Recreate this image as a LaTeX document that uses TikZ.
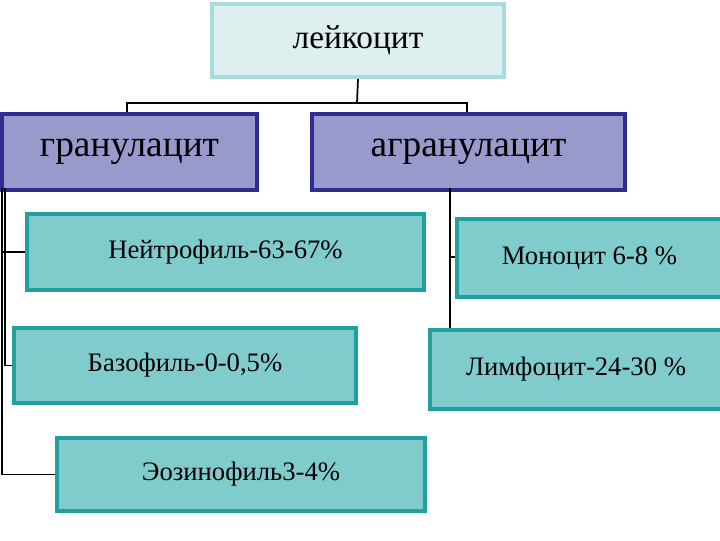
\documentclass[tikz,border=0pt]{standalone}
\usepackage{fontspec}
\setmainfont{Liberation Serif}
\definecolor{topfill}{HTML}{DDEFEF}
\definecolor{topdraw}{HTML}{A8DCDC}
\definecolor{lav}{HTML}{9999CC}
\definecolor{navy}{HTML}{2E2E8F}
\definecolor{tealf}{HTML}{80CCCC}
\definecolor{teald}{HTML}{22A0A0}
\begin{document}
\begin{tikzpicture}[x=0.75pt,y=-0.75pt,
  bx/.style={draw,line width=3pt,inner sep=0pt,anchor=north west},
  topbox/.style={bx,fill=topfill,draw=topdraw},
  midbox/.style={bx,fill=lav,draw=navy,font=\fontsize{28}{30}\selectfont},
  lowbox/.style={bx,fill=tealf,draw=teald,font=\fontsize{20}{22}\selectfont},
  ln/.style={line width=1.3pt,black}]
\useasboundingbox (0,0) rectangle (720,540);
\node[topbox,minimum width=0.75*292pt,minimum height=0.75*73pt,font=\fontsize{25}{27}\selectfont] (L) at (210,2) {лейкоцит};
\node[midbox,minimum width=0.75*255pt,minimum height=0.75*76pt] (G) at (0,112) {гранулацит};
\node[midbox,minimum width=0.75*313pt,minimum height=0.75*76pt] (A) at (310,112) {агранулацит};
\node[lowbox,minimum width=0.75*397pt,minimum height=0.75*76pt] (N) at (25,212) {Нейтрофиль-63-67\%};
\node[lowbox,minimum width=0.75*342pt,minimum height=0.75*75pt] (B) at (12,326) {Базофиль-0-0,5\%};
\node[lowbox,minimum width=0.75*368pt,minimum height=0.75*73pt] (E) at (55,436) {Эозинофиль3-4\%};
\node[lowbox,minimum width=0.75*265pt,minimum height=0.75*78pt] (M) at (455,217) {Моноцит 6-8 \%};
\node[lowbox,minimum width=0.75*292pt,minimum height=0.75*79pt] (Y) at (428,328) {Лимфоцит-24-30 \%};
\coordinate (j1) at (127,103);
\coordinate (j2) at (467,103);
\begin{scope}[on background layer/.style={}]
\draw[ln] (L.south) -- (357,103);
\draw[ln] (127,112) -- (j1) -- (j2) -- (467,112);
\draw[ln] (2,188) |- (N.west);
\draw[ln] (2,250) |- (E.west);
\draw[ln] (5,188) |- (B.west);
\draw[ln] (450,188) -- (450,328);
\draw[ln] (450,257) -- (M.west |- 0,257);
\end{scope}
\end{tikzpicture}
\end{document}
